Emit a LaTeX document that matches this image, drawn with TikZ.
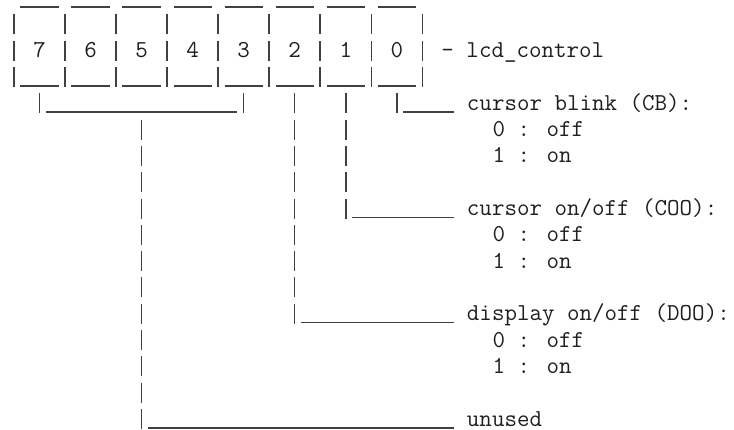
\documentclass[tikz,border=0pt]{standalone}
\usepackage{fontspec}
\tikzset{
  bar/.style={draw=black!75, line width=1.5pt},
  txt/.style={inner sep=0pt, outer sep=0pt, font=\fontsize{24.3}{26}\selectfont\ttfamily, text=black!88},
  lbl/.style={txt, anchor=base west},
  dig/.style={txt, anchor=base},
}
\begin{document}
\begin{tikzpicture}[x=12.76pt, y=-26.3pt]
\path[use as bounding box] (0,0) rectangle (734pt,-430pt);
\begin{scope}[shift={(14pt,-5.2pt)}]
  % register box: top and bottom edges
  \foreach \c in {0,4,...,28}{
    \draw[bar] ([yshift=-1.8pt]\c+0.5,0) -- ([yshift=-1.8pt]\c+3.5,0);
    \draw[bar] ([yshift=-1.8pt]\c+0.5,3) -- ([yshift=-1.8pt]\c+3.5,3);
  }
  % register box: separators
  \foreach \c in {0,4,...,32}
    \foreach \r in {1,2,3}
      \draw[bar] ([yshift=17pt]\c,\r) -- ([yshift=-3pt]\c,\r);
  % bit numbers
  \foreach \b [evaluate=\b as \c using {30-4*\b}] in {0,...,7}
    \node[dig] (bit\b) at (\c,2) {\b};
  \node[lbl] (reg) at (33.5,2) {- lcd\_control};
  % labels
  \node[lbl] (cb)  at (35.5,4)  {cursor blink (CB):};
  \node[lbl] (cb0) at (37.5,5)  {0 : off};
  \node[lbl] (cb1) at (37.5,6)  {1 : on};
  \node[lbl] (coo)  at (35.5,8)  {cursor on/off (COO):};
  \node[lbl] (coo0) at (37.5,9)  {0 : off};
  \node[lbl] (coo1) at (37.5,10) {1 : on};
  \node[lbl] (doo)  at (35.5,12) {display on/off (DOO):};
  \node[lbl] (doo0) at (37.5,13) {0 : off};
  \node[lbl] (doo1) at (37.5,14) {1 : on};
  \node[lbl] (unu)  at (35.5,16) {unused};
  % bracket over bits 7..3
  \draw[bar] ([yshift=17pt]2,4) -- ([yshift=-3pt]2,4);
  \draw[bar] ([yshift=17pt]18,4) -- ([yshift=-3pt]18,4);
  \draw[bar] ([yshift=-1.8pt]2.5,4) -- ([yshift=-1.8pt]17.5,4);
  % bit 0 -> cursor blink
  \draw[bar] ([yshift=17pt]30,4) -- ([yshift=-3pt]30,4);
  \draw[bar] ([yshift=-1.8pt]30.5,4) -- ([xshift=-12.76pt,yshift=-1.8pt]cb.base west);
  % bit 1 -> cursor on/off
  \foreach \r in {4,...,8}
    \draw[bar] ([yshift=17pt]26,\r) -- ([yshift=-3pt]26,\r);
  \draw[bar] ([yshift=-1.8pt]26.5,8) -- ([xshift=-12.76pt,yshift=-1.8pt]coo.base west);
  % bit 2 -> display on/off
  \foreach \r in {4,...,12}
    \draw[bar] ([yshift=17pt]22,\r) -- ([yshift=-3pt]22,\r);
  \draw[bar] ([yshift=-1.8pt]22.5,12) -- ([xshift=-12.76pt,yshift=-1.8pt]doo.base west);
  % bits 7..3 -> unused
  \foreach \r in {5,...,16}
    \draw[bar] ([yshift=17pt]10,\r) -- ([yshift=-3pt]10,\r);
  \draw[bar] ([yshift=-1.8pt]10.5,16) -- ([xshift=-12.76pt,yshift=-1.8pt]unu.base west);
\end{scope}
\end{tikzpicture}
\end{document}
